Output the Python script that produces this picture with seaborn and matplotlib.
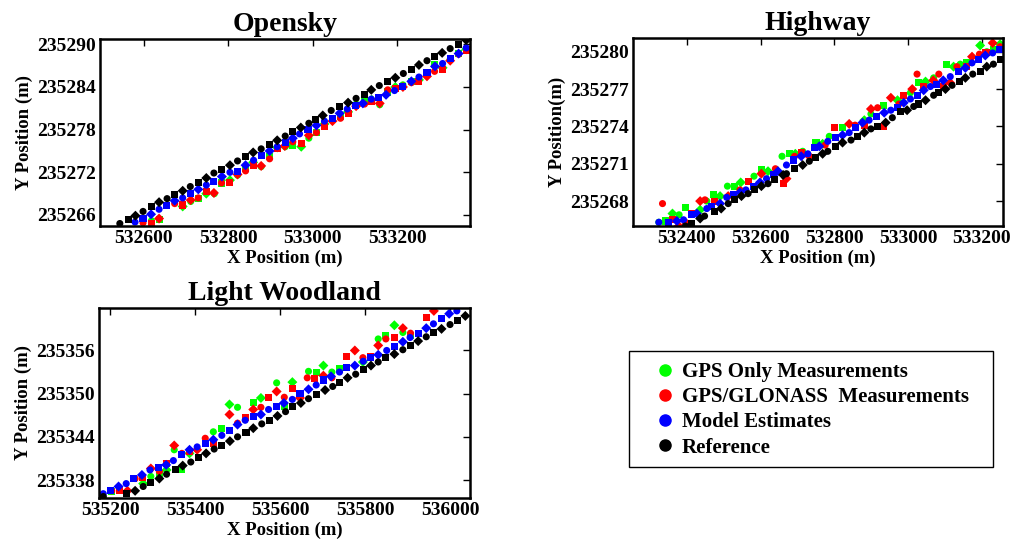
import numpy as np
import pandas as pd
import matplotlib
matplotlib.use("Agg")
import matplotlib.pyplot as plt
import seaborn as sns
from matplotlib.lines import Line2D
from matplotlib.patches import Rectangle

# ---------------- data ----------------
series_names = ["GPS Only Measurements", "GPS/GLONASS  Measurements", "Model Estimates", "Reference"]
series_colors = ["#00ff00", "#ff0000", "#0000ff", "#000000"]

# Opensky
os_gps_x = [532618, 532636, 532692, 532711, 532729, 532748, 532767, 532785, 532804, 532822, 532841, 532859, 532878, 532898, 532916, 532935, 532953, 532973, 532991, 533009, 533028, 533047, 533066, 533084, 533103, 533123, 533140, 533159, 533178, 533196, 533214, 533234, 533252, 533271, 533289, 533308, 533326, 533346, 533364]
os_gps_y = [235265.2, 235265.3, 235267.2, 235267.9, 235268.3, 235269.0, 235269.0, 235270.5, 235270.9, 235271.6, 235272.6, 235273.4, 235272.8, 235274.2, 235275.5, 235275.6, 235275.8, 235275.6, 235276.8, 235277.6, 235278.8, 235279.4, 235279.8, 235280.5, 235281.6, 235281.9, 235282.2, 235281.5, 235283.3, 235284.0, 235284.3, 235284.8, 235285.0, 235285.8, 235287.1, 235286.7, 235287.9, 235288.7, 235289.3]
os_glo_x = [532598, 532618, 532636, 532673, 532692, 532711, 532729, 532748, 532766, 532784, 532804, 532822, 532841, 532859, 532878, 532898, 532916, 532934, 532953, 532973, 532991, 533009, 533028, 533047, 533066, 533084, 533103, 533123, 533140, 533159, 533178, 533196, 533214, 533234, 533252, 533271, 533289, 533308, 533326, 533346, 533364]
os_glo_y = [235264.9, 235264.8, 235265.5, 235267.6, 235267.4, 235268.1, 235268.4, 235269.3, 235269.1, 235270.5, 235270.6, 235271.7, 235272.2, 235273.0, 235272.9, 235273.9, 235275.4, 235275.7, 235276.3, 235276.1, 235277.2, 235277.6, 235278.5, 235279.2, 235279.6, 235280.3, 235281.3, 235281.6, 235281.9, 235281.7, 235283.6, 235283.8, 235284.0, 235284.6, 235284.8, 235285.5, 235286.2, 235286.5, 235287.7, 235288.6, 235289.2]
os_mod_x = [532579, 532598, 532617, 532636, 532654, 532673, 532692, 532710, 532729, 532748, 532766, 532785, 532804, 532822, 532841, 532860, 532878, 532898, 532916, 532935, 532953, 532969, 532989, 533009, 533028, 533046, 533064, 533082, 533102, 533119, 533139, 533157, 533174, 533194, 533214, 533234, 533252, 533271, 533290, 533308, 533327, 533346, 533364]
os_mod_y = [235265.0, 235265.5, 235266.1, 235266.8, 235267.3, 235268.0, 235268.4, 235269.0, 235269.6, 235270.2, 235270.7, 235271.4, 235272.0, 235272.1, 235273.0, 235273.7, 235274.4, 235275.0, 235275.6, 235276.2, 235276.8, 235277.4, 235278.0, 235278.6, 235279.2, 235279.6, 235280.3, 235280.9, 235281.4, 235281.7, 235282.3, 235282.5, 235282.9, 235283.5, 235284.1, 235284.8, 235285.4, 235286.0, 235286.9, 235287.3, 235288.0, 235288.7, 235289.5]
os_ref_x = [532543, 532563, 532580, 532598, 532618, 532636, 532655, 532673, 532692, 532710, 532729, 532748, 532766, 532785, 532804, 532822, 532841, 532859, 532878, 532897, 532916, 532935, 532953, 532972, 532991, 533007, 533024, 533044, 533064, 533084, 533103, 533122, 533139, 533158, 533177, 533196, 533215, 533234, 533252, 533271, 533289, 533307, 533326, 533345, 533364]
os_ref_y = [235264.8, 235265.3, 235265.9, 235266.5, 235267.2, 235267.8, 235268.3, 235268.9, 235269.4, 235270.0, 235270.6, 235271.2, 235271.9, 235272.4, 235273.0, 235273.6, 235274.2, 235274.8, 235275.3, 235275.9, 235276.5, 235277.1, 235277.7, 235278.3, 235278.9, 235279.4, 235280.0, 235280.7, 235281.2, 235281.8, 235282.4, 235283.0, 235283.6, 235284.2, 235284.8, 235285.3, 235285.9, 235286.5, 235287.1, 235287.7, 235288.3, 235288.8, 235289.4, 235290.0, 235290.6]

# Highway
hw_gps_x = [532324, 532342, 532361, 532379, 532397, 532436, 532454, 532472, 532490, 532510, 532528, 532546, 532582, 532602, 532620, 532658, 532679, 532694, 532714, 532750, 532768, 532786, 532822, 532881, 532899, 532933, 532971, 533006, 533029, 533047, 533069, 533105, 533123, 533141, 533159, 533195, 533213, 533231, 533249]
hw_gps_y = [235266.3, 235266.4, 235267.0, 235266.9, 235267.5, 235267.3, 235268.0, 235268.5, 235268.4, 235269.2, 235269.2, 235269.5, 235270.0, 235270.5, 235270.4, 235271.6, 235271.8, 235271.8, 235272.0, 235272.7, 235272.6, 235273.2, 235273.9, 235274.5, 235275.0, 235275.7, 235276.1, 235276.7, 235277.5, 235277.6, 235277.9, 235279.0, 235278.8, 235279.0, 235279.1, 235280.5, 235280.0, 235280.2, 235280.6]
hw_glo_x = [532334, 532361, 532378, 532396, 532412, 532436, 532449, 532476, 532512, 532544, 532566, 532602, 532640, 532661, 532670, 532692, 532712, 532732, 532775, 532800, 532840, 532856, 532881, 532899, 532917, 532933, 532953, 532975, 532988, 533011, 533024, 533042, 533068, 533083, 533096, 533114, 533132, 533157, 533173, 533193, 533211, 533229, 533249]
hw_glo_y = [235267.8, 235266.5, 235266.0, 235266.3, 235267.0, 235268.0, 235268.1, 235268.0, 235268.4, 235268.9, 235269.6, 235270.2, 235270.6, 235269.4, 235269.8, 235271.6, 235271.9, 235271.6, 235272.5, 235273.9, 235274.2, 235274.1, 235274.1, 235275.4, 235275.5, 235274.0, 235276.3, 235275.8, 235276.5, 235277.0, 235278.2, 235277.2, 235277.7, 235278.2, 235277.2, 235277.5, 235278.8, 235278.8, 235279.6, 235279.8, 235279.9, 235280.7, 235280.4]
hw_mod_x = [532324, 532351, 532373, 532391, 532413, 532427, 532454, 532467, 532490, 532508, 532526, 532544, 532560, 532580, 532598, 532616, 532634, 532647, 532670, 532688, 532710, 532728, 532746, 532759, 532782, 532803, 532822, 532840, 532856, 532876, 532894, 532915, 532935, 532953, 532971, 532988, 533006, 533024, 533042, 533060, 533077, 533095, 533114, 533137, 533155, 533173, 533191, 533209, 533229, 533247]
hw_mod_y = [235266.3, 235266.3, 235266.4, 235266.5, 235266.9, 235267.0, 235267.4, 235267.6, 235267.8, 235268.3, 235268.5, 235268.7, 235268.9, 235269.2, 235269.5, 235269.8, 235270.1, 235270.4, 235270.9, 235271.3, 235271.6, 235271.8, 235272.3, 235272.4, 235272.8, 235273.1, 235273.3, 235273.5, 235273.9, 235274.3, 235274.5, 235274.8, 235275.1, 235275.3, 235275.5, 235275.9, 235276.2, 235276.5, 235276.9, 235277.2, 235277.4, 235277.7, 235278.0, 235278.4, 235278.7, 235279.1, 235279.4, 235279.7, 235279.9, 235280.2]
hw_ref_x = [532396, 532413, 532436, 532448, 532476, 532493, 532512, 532530, 532548, 532566, 532584, 532602, 532620, 532638, 532661, 532670, 532692, 532714, 532732, 532749, 532768, 532782, 532804, 532822, 532845, 532863, 532881, 532899, 532918, 532939, 532957, 532980, 532997, 533015, 533029, 533047, 533069, 533083, 533101, 533119, 533139, 533155, 533175, 533195, 533213, 533231, 533249]
hw_ref_y = [235266.0, 235266.2, 235266.6, 235266.8, 235267.2, 235267.4, 235267.8, 235268.1, 235268.4, 235268.6, 235268.9, 235269.2, 235269.4, 235269.7, 235270.1, 235270.2, 235270.6, 235270.9, 235271.2, 235271.5, 235271.8, 235272.0, 235272.4, 235272.7, 235272.9, 235273.2, 235273.5, 235273.8, 235274.0, 235274.3, 235274.7, 235275.2, 235275.3, 235275.6, 235275.8, 235276.1, 235276.5, 235276.7, 235277.0, 235277.3, 235277.6, 235277.9, 235278.2, 235278.4, 235278.8, 235279.0, 235279.4]

# Light Woodland
lw_gps_x = [535184, 535204, 535278, 535296, 535316, 535333, 535351, 535369, 535387, 535443, 535463, 535481, 535500, 535537, 535555, 535592, 535610, 535629, 535667, 535685, 535702, 535722, 535740, 535795, 535831, 535849, 535869, 535889, 535907]
lw_gps_y = [235335.6, 235336.4, 235337.5, 235338.5, 235338.9, 235339.4, 235342.2, 235339.5, 235341.7, 235344.7, 235345.2, 235348.5, 235348.1, 235348.8, 235349.4, 235351.5, 235348.2, 235351.6, 235353.1, 235353.0, 235353.9, 235353.0, 235353.5, 235354.4, 235357.6, 235358.1, 235359.5, 235358.5, 235358.1]
lw_glo_x = [535204, 535222, 535241, 535259, 535277, 535296, 535316, 535333, 535351, 535369, 535387, 535405, 535424, 535443, 535481, 535500, 535518, 535537, 535555, 535573, 535592, 535610, 535629, 535647, 535664, 535682, 535702, 535722, 535757, 535776, 535795, 535813, 535831, 535849, 535869, 535889, 535907, 535944, 535962]
lw_glo_y = [235336.5, 235336.6, 235336.5, 235338.2, 235338.4, 235339.6, 235339.2, 235340.3, 235342.8, 235341.7, 235341.9, 235342.2, 235343.8, 235343.1, 235347.1, 235345.9, 235346.7, 235347.8, 235348.1, 235349.5, 235350.3, 235349.5, 235350.7, 235349.4, 235352.2, 235352.1, 235352.5, 235352.2, 235355.2, 235356.0, 235355.0, 235355.2, 235356.7, 235357.6, 235357.8, 235359.1, 235358.4, 235360.6, 235361.5]
lw_mod_x = [535184, 535202, 535220, 535238, 535256, 535275, 535294, 535314, 535332, 535349, 535369, 535387, 535405, 535424, 535443, 535463, 535481, 535500, 535518, 535537, 535555, 535573, 535591, 535609, 535629, 535647, 535667, 535685, 535702, 535720, 535740, 535757, 535776, 535796, 535813, 535831, 535851, 535869, 535889, 535906, 535925, 535944, 535961, 535980, 535998, 536016]
lw_mod_y = [235336.1, 235336.5, 235337.1, 235337.5, 235338.2, 235338.7, 235339.4, 235339.8, 235340.1, 235340.7, 235341.5, 235342.2, 235342.6, 235343.1, 235343.6, 235344.2, 235344.9, 235345.7, 235346.3, 235346.8, 235347.1, 235347.8, 235348.2, 235348.7, 235349.2, 235350.0, 235350.6, 235351.2, 235351.9, 235352.4, 235353.0, 235353.6, 235353.9, 235354.5, 235355.0, 235355.4, 235356.0, 235356.6, 235357.2, 235357.8, 235358.3, 235359.1, 235359.7, 235360.4, 235361.1, 235361.5]
lw_ref_x = [535184, 535239, 535259, 535278, 535296, 535316, 535333, 535353, 535371, 535390, 535409, 535426, 535445, 535463, 535482, 535500, 535520, 535537, 535557, 535575, 535594, 535613, 535630, 535649, 535667, 535686, 535706, 535724, 535741, 535759, 535778, 535796, 535814, 535831, 535849, 535869, 535889, 535907, 535925, 535944, 535962, 535980, 536000, 536017, 536036]
lw_ref_y = [235335.7, 235336.1, 235336.5, 235337.1, 235337.7, 235338.2, 235338.8, 235339.4, 235340.0, 235340.5, 235341.1, 235341.7, 235342.3, 235342.8, 235343.4, 235344.0, 235344.6, 235345.2, 235345.8, 235346.3, 235346.9, 235347.5, 235348.2, 235348.7, 235349.3, 235349.9, 235350.5, 235351.0, 235351.6, 235352.2, 235352.7, 235353.3, 235353.9, 235354.4, 235355.0, 235355.5, 235356.1, 235356.7, 235357.3, 235357.9, 235358.5, 235359.0, 235359.6, 235360.2, 235360.8]

# ticks
os_xticks = [532600, 532800, 533000, 533200]
os_yticks = [235266, 235272, 235278, 235284, 235290]
hw_xticks = [532400, 532600, 532800, 533000, 533200]
hw_yticks = [235268, 235271, 235274, 235277, 235280]
lw_xticks = [535200, 535400, 535600, 535800, 536000]
lw_yticks = [235338, 235344, 235350, 235356]

# ---------------- style ----------------
sns.set_theme(style="white")
plt.rcParams["font.family"] = ["Liberation Serif", "DejaVu Serif"]
plt.rcParams["font.weight"] = "bold"
plt.rcParams["axes.labelweight"] = "bold"
plt.rcParams["axes.titleweight"] = "bold"
for k in ["text.color", "axes.labelcolor", "xtick.color", "ytick.color", "axes.edgecolor"]:
    plt.rcParams[k] = "black"

W, H = 1012, 545
fig = plt.figure(figsize=(W / 100, H / 100), dpi=100)


def px_axes(l, t, r, b):
    return fig.add_axes([l / W, 1 - b / H, (r - l) / W, (b - t) / H])


shape_cycle = ["o", "s", "D"]


def panel(ax, sets, title, xlabel, ylabel, xticks, yticks, xlim, ylim):
    for (xs, ys), color in zip(sets, series_colors):
        df = pd.DataFrame({"x": xs, "y": ys})
        df["shape"] = [shape_cycle[i % 3] for i in range(len(df))]
        sns.scatterplot(data=df, x="x", y="y", style="shape",
                        markers={m: m for m in shape_cycle},
                        color=color, s=26, linewidth=0, legend=False, ax=ax,
                        clip_on=True)
    ax.set_xlim(*xlim)
    ax.set_ylim(*ylim)
    ax.set_xticks(xticks)
    ax.set_yticks(yticks)
    ax.set_xticklabels([str(v) for v in xticks], fontsize=14, fontweight="bold")
    ax.set_yticklabels([str(v) for v in yticks], fontsize=14, fontweight="bold")
    ax.tick_params(direction="in", length=5, width=1, top=True, right=True,
                   pad=3, colors="black")
    for s in ax.spines.values():
        s.set_color("black")
        s.set_linewidth(1.8)
    ax.set_title(title, fontsize=20, fontweight="bold", pad=6, color="black")
    ax.set_xlabel(xlabel, fontsize=13.5, fontweight="bold", labelpad=2, color="black")
    ax.set_ylabel(ylabel, fontsize=13.5, fontweight="bold", labelpad=3, color="black")


ax1 = px_axes(100, 39, 470, 226)
panel(ax1, [(os_gps_x, os_gps_y), (os_glo_x, os_glo_y), (os_mod_x, os_mod_y), (os_ref_x, os_ref_y)],
      "Opensky", "X Position (m)", "Y Position (m)", os_xticks, os_yticks,
      (532496, 533373), (235264.45, 235290.75))

ax2 = px_axes(633, 38, 1003, 226)
panel(ax2, [(hw_gps_x, hw_gps_y), (hw_glo_x, hw_glo_y), (hw_mod_x, hw_mod_y), (hw_ref_x, hw_ref_y)],
      "Highway", "X Position (m)", "Y Position(m)", hw_xticks, hw_yticks,
      (532254, 533257), (235266.0, 235281.1))

ax3 = px_axes(99, 308, 470, 498)
panel(ax3, [(lw_gps_x, lw_gps_y), (lw_glo_x, lw_glo_y), (lw_mod_x, lw_mod_y), (lw_ref_x, lw_ref_y)],
      "Light Woodland", "X Position (m)", "Y Position (m)", lw_xticks, lw_yticks,
      (535174, 536047), (235335.5, 235361.9))

# legend box drawn as a figure rectangle, legend entries placed inside it
fig.patches.append(Rectangle((629 / W, 1 - 467 / H), 364 / W, 116 / H,
                             transform=fig.transFigure, facecolor="white",
                             edgecolor="black", linewidth=1.0, zorder=0))
handles = [Line2D([0], [0], marker="o", linestyle="none", markersize=8,
                  markerfacecolor=c, markeredgecolor=c) for c in series_colors]
leg = fig.legend(handles, series_names, loc="upper left",
                 bbox_to_anchor=(655 / W, 1 - 362 / H),
                 frameon=False, prop={"weight": "bold", "size": 15},
                 labelspacing=0.25, handletextpad=0.3, borderpad=0.0,
                 handlelength=1.0, borderaxespad=0)

fig.savefig("out.png", dpi=100)
